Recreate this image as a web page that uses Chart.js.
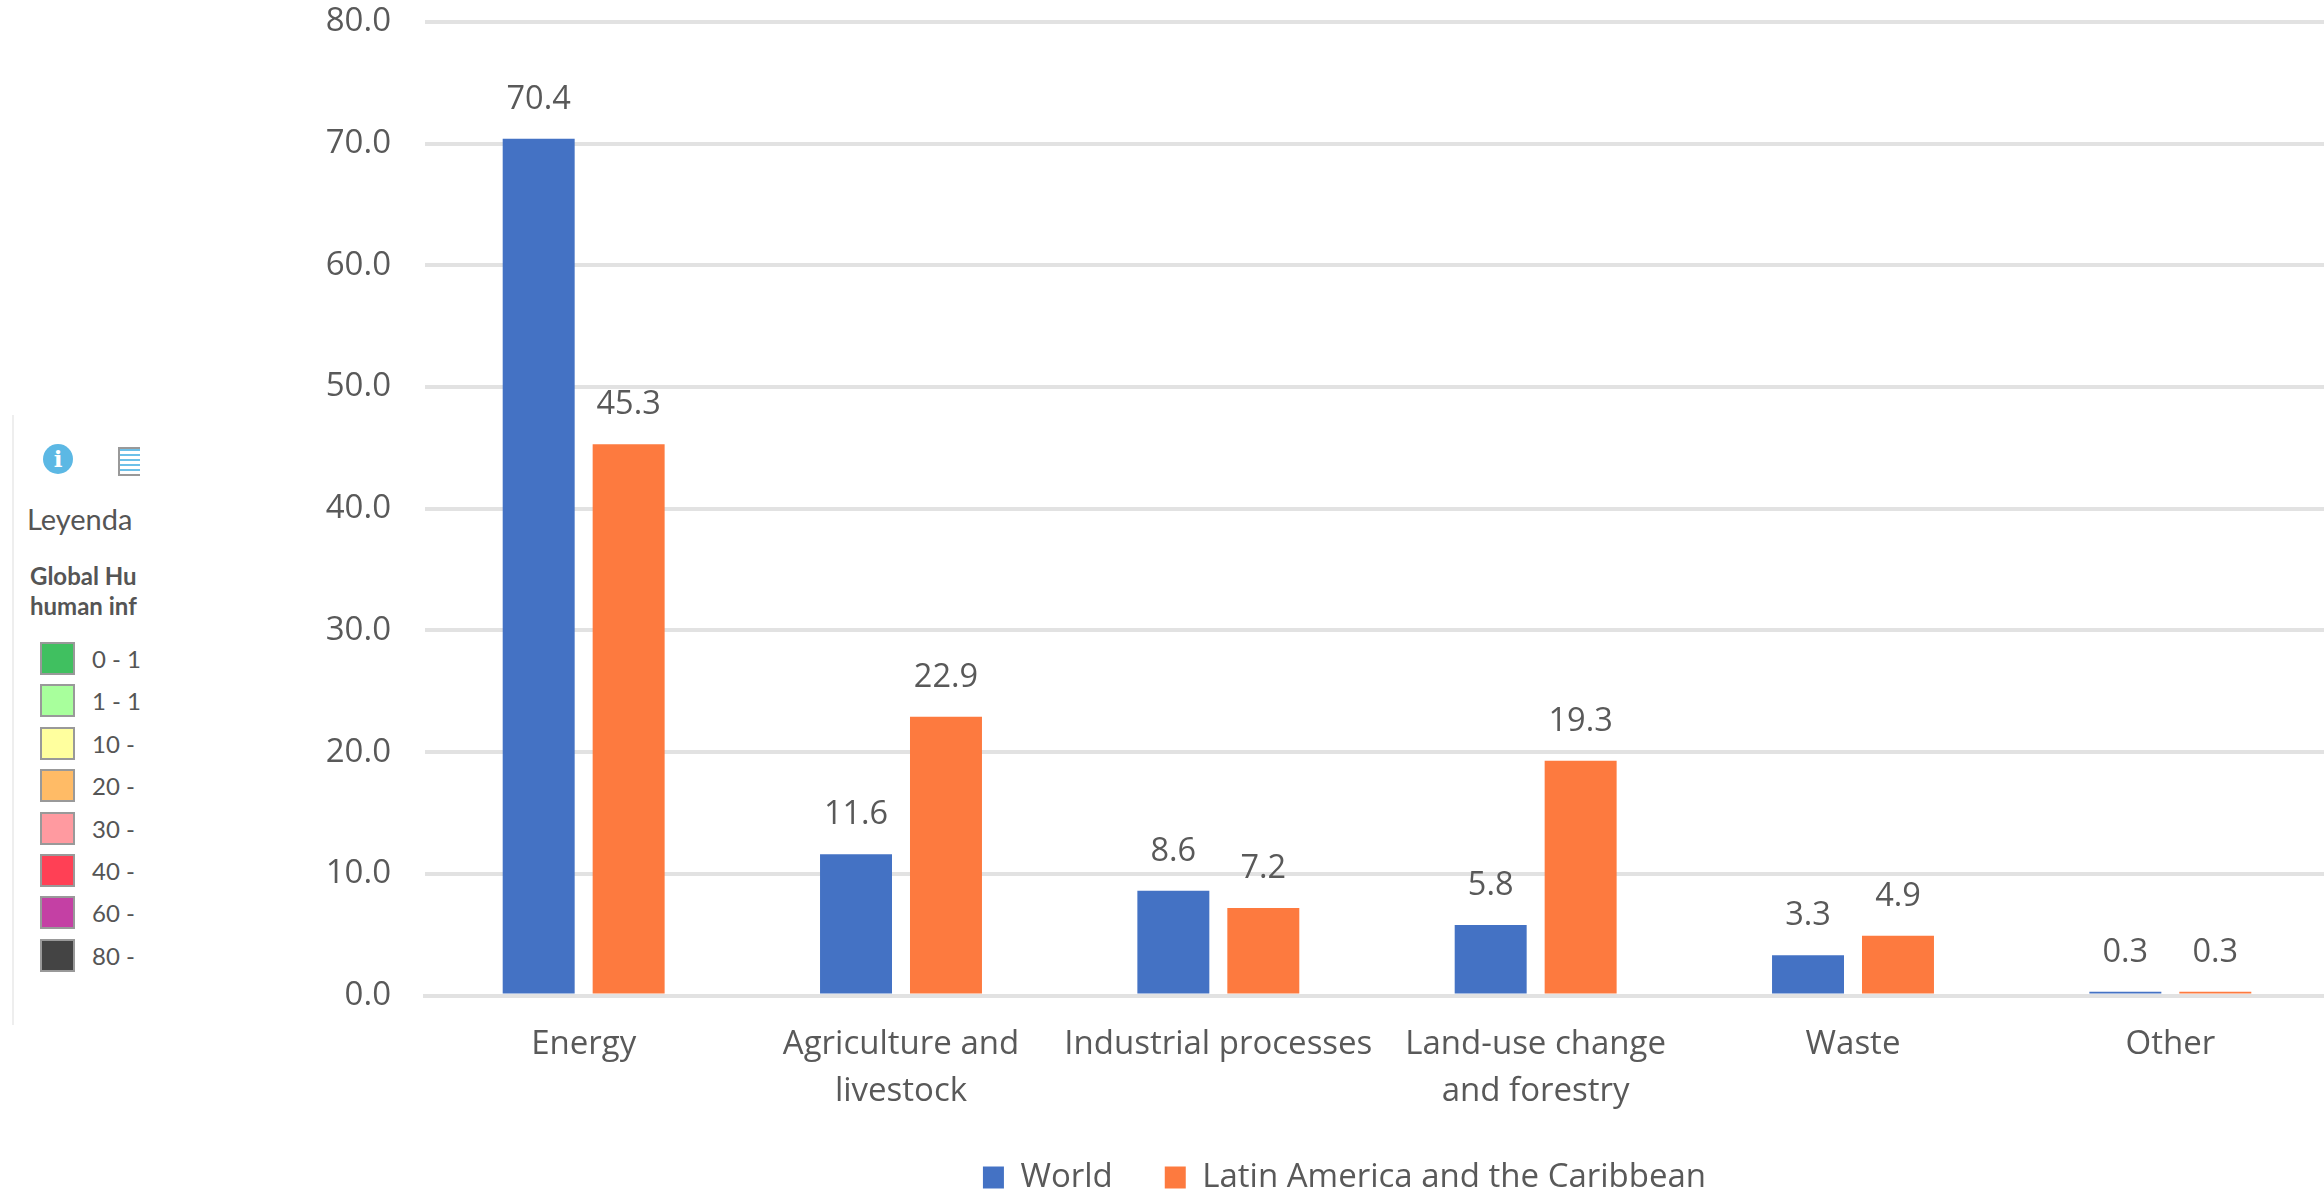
<!DOCTYPE html>
<html>
<head>
<meta charset="utf-8">
<title>Emissions by sector</title>
<script src="https://cdn.jsdelivr.net/npm/chart.js@4"></script>
<style>
    html, body { margin: 0; padding: 0; width: 2324px; height: 1190px; overflow: hidden; background: #fff; }
    #chartBox { position: absolute; left: 0; top: 0; width: 2329px; height: 1215px; }
    #panel { position: absolute; left: 12px; top: 415px; width: 126px; height: 610px; overflow: hidden;
             border-left: 2px solid #eeeeee; font-family: Lato, sans-serif; color: #555; background: #fff; }
    #panel div { position: absolute; white-space: nowrap; }
    #info { left: 29px; top: 29px; width: 30px; height: 30px; border-radius: 50%; background: #5cb8e4;
            color: #fff; font: bold 23px/30px "DejaVu Serif", serif; text-align: center; }
    #listIcon { left: 104px; top: 32px; width: 30px; height: 25px; border: 2px solid #999; background: #fff
            repeating-linear-gradient(#6cc0e8 0 2px, #fff 2px 5px); }
    #title { left: 13px; top: 84px; font-size: 29px; line-height: 40px; }
    .head { left: 16px; font-size: 24px; line-height: 30px; font-weight: bold; }
    .swatch { left: 26px; width: 31px; height: 29px; border: 2px solid #999; }
    .range { left: 78px; font-size: 24px; line-height: 33px; }
</style>
</head>
<body>
<div id="chartBox"><canvas id="sectorChart"></canvas></div>
<div id="panel">
    <div id="info">i</div>
    <div id="listIcon"></div>
    <div id="title">Leyenda</div>
    <div class="head" style="top:146px">Global Hu</div>
    <div class="head" style="top:176px">human inf</div>
</div>
<script>
const categories = ["Energy", ["Agriculture and", "livestock"], "Industrial processes",
    ["Land-use change", "and forestry"], "Waste", "Other"];
const worldValues = [70.4, 11.6, 8.6, 5.8, 3.3, 0.3];
const latinValues = [45.3, 22.9, 7.2, 19.3, 4.9, 0.3];
const seriesNames = ["World", "Latin America and the Caribbean"];

const rangeLabels = ["0 - 1", "1 - 1", "10 -", "20 -", "30 -", "40 -", "60 -", "80 -"];
const rangeColors = ["#40c060", "#a8ff9c", "#ffff9e", "#ffbb66", "#ff9aa0", "#ff4055", "#c440a4", "#444444"];

const textColor = "#595959";
const fontName = "'Open Sans', sans-serif";

// map legend rows
const panel = document.getElementById("panel");
rangeLabels.forEach(function (label, i) {
    const top = 227 + i * 42.4;
    const box = document.createElement("div");
    box.className = "swatch";
    box.style.top = top + "px";
    box.style.background = rangeColors[i];
    panel.appendChild(box);
    const txt = document.createElement("div");
    txt.className = "range";
    txt.style.top = top + "px";
    txt.textContent = label;
    panel.appendChild(txt);
});

// prints the value above each bar
const valueLabels = {
    id: "valueLabels",
    afterDatasetsDraw(chart) {
        const ctx = chart.ctx;
        ctx.save();
        ctx.font = "32.5px " + fontName;
        ctx.fillStyle = textColor;
        ctx.textAlign = "center";
        ctx.textBaseline = "alphabetic";
        chart.data.datasets.forEach(function (ds, d) {
            chart.getDatasetMeta(d).data.forEach(function (bar, i) {
                ctx.fillText(ds.data[i].toFixed(1), bar.x, bar.y - 30);
            });
        });
        ctx.restore();
    }
};

// the bottom legend sits right of the canvas centre
const legendShift = {
    id: "legendShift",
    afterLayout(chart) {
        const legend = chart.legend;
        legend.left += 180;
        legend.right += 180;
        legend.top -= 11;
        legend.bottom -= 11;
    }
};

new Chart(document.getElementById("sectorChart").getContext("2d"), {
    type: "bar",
    data: {
        labels: categories,
        datasets: [
            { label: seriesNames[0], data: worldValues, backgroundColor: "#4472c4" },
            { label: seriesNames[1], data: latinValues, backgroundColor: "#fd7a3f" }
        ]
    },
    plugins: [valueLabels, legendShift],
    options: {
        responsive: true,
        maintainAspectRatio: false,
        animation: false,
        layout: { padding: { top: 22 } },
        datasets: { bar: { categoryPercentage: 0.567, barPercentage: 0.8 } },
        scales: {
            x: {
                grid: { display: false },
                border: { color: "#e2e2e2", width: 4 },
                ticks: {
                    color: textColor,
                    padding: 18,
                    maxRotation: 0,
                    autoSkip: false,
                    font: { family: fontName, size: 33, lineHeight: 1.42 }
                },
                afterFit(scale) { scale.height = 124.5; }
            },
            y: {
                min: 0,
                max: 80,
                grid: { color: "#e2e2e2", lineWidth: 4, drawTicks: false },
                border: { display: false },
                ticks: {
                    stepSize: 10,
                    color: textColor,
                    padding: 34,
                    font: { family: fontName, size: 33 },
                    callback: function (v) { return v.toFixed(1); }
                },
                afterFit(scale) {
                    scale.width = 425;
                    scale.paddingTop = 0;
                    scale.paddingBottom = 0;
                }
            }
        },
        plugins: {
            tooltip: { enabled: false },
            legend: {
                position: "bottom",
                labels: {
                    color: textColor,
                    boxWidth: 21,
                    boxHeight: 22,
                    padding: 52,
                    font: { family: fontName, size: 33 }
                }
            }
        }
    }
});
</script>
</body>
</html>
